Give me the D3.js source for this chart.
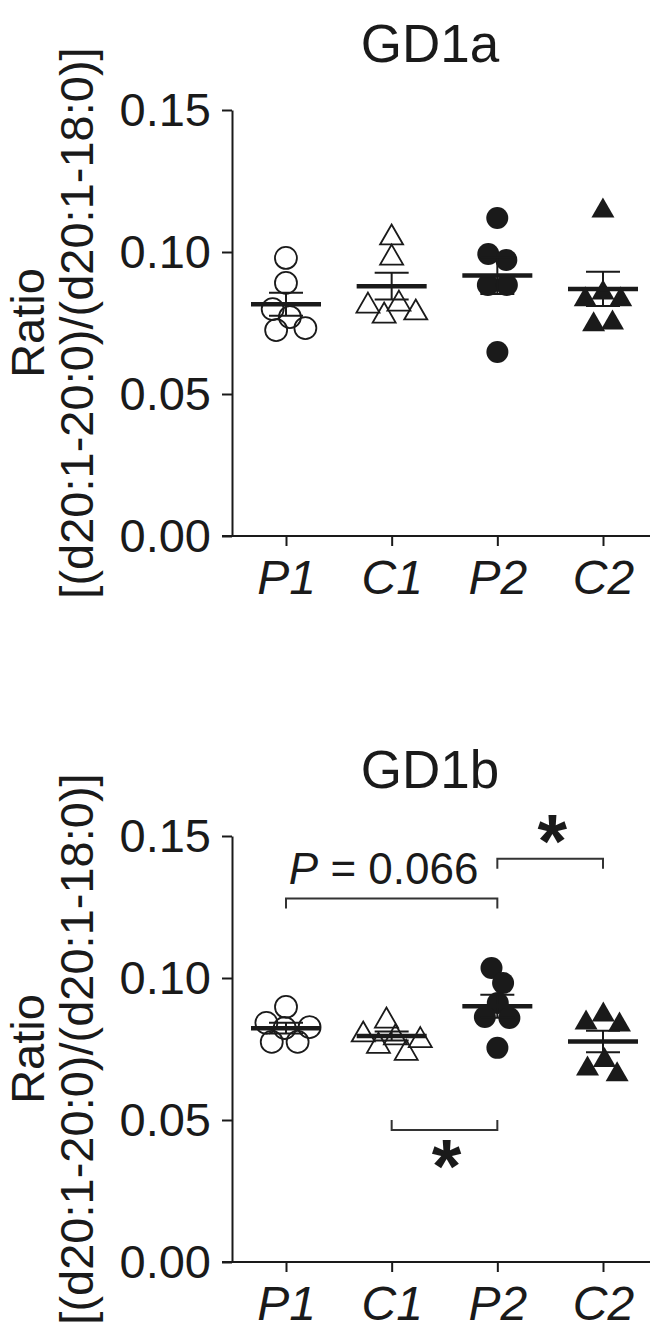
<!DOCTYPE html>
<html lang="en">
<head>
  <meta charset="UTF-8">
  <title>GD1a / GD1b ratio</title>
  <script src="https://cdn.jsdelivr.net/npm/d3@7"></script>
  <style>
    body { margin: 0; background: #fff; }
    svg text { font-family: "Liberation Sans", Arial, sans-serif; fill: #1a1a1a; }
  </style>
</head>
<body>
  <svg id="chart" width="659" height="1332"></svg>
  <script>
    const categories = ["P1", "C1", "P2", "C2"];
    const yTicks = [0, 0.05, 0.10, 0.15];

    // GD1a, six samples per group
    const gd1aP1 = [0.0979, 0.0891, 0.0799, 0.0771, 0.0725, 0.0732];
    const gd1aC1 = [0.1060, 0.0989, 0.0820, 0.0785, 0.0796, 0.0827];
    const gd1aP2 = [0.1120, 0.0993, 0.0972, 0.0884, 0.0884, 0.0648];
    const gd1aC2 = [0.1155, 0.0866, 0.0842, 0.0842, 0.0754, 0.0761];

    // GD1b
    const gd1bP1 = [0.0898, 0.0842, 0.0824, 0.0827, 0.0775, 0.0775];
    const gd1bC1 = [0.0859, 0.0810, 0.0800, 0.0790, 0.0770, 0.0745];
    const gd1bP2 = [0.1035, 0.0982, 0.0912, 0.0863, 0.0859, 0.0754];
    const gd1bC2 = [0.0880, 0.0852, 0.0845, 0.0720, 0.0690, 0.0670];

    // significance brackets for GD1b
    const gd1bBrackets = [
      { from: "P1", to: "P2", y: 0.128, label: "P = 0.066", below: false },
      { from: "P2", to: "C2", y: 0.142, label: "*", below: false },
      { from: "C1", to: "P2", y: 0.0465, label: "*", below: true }
    ];

    const markers = {
      P1: { shape: "circle", filled: false },
      C1: { shape: "triangle", filled: false },
      P2: { shape: "circle", filled: true },
      C2: { shape: "triangle", filled: true }
    };

    const svg = d3.select("#chart");
    const ink = "#1a1a1a";
    const axisX = 232;
    const rightX = 650;

    const x = d3.scalePoint().domain(categories).range([286, 603]);

    function markerPath(shape) {
      if (shape === "circle") return d3.symbol(d3.symbolCircle, Math.PI * 11 * 11)();
      return "M0,-10.5L11.5,9.5L-11.5,9.5Z";
    }

    function drawPanel(top, title, groups, brackets) {
      const g = svg.append("g").attr("transform", `translate(0,${top})`);
      const y = d3.scaleLinear().domain([0, 0.15]).range([536, 110]);

      g.append("text")
        .attr("x", 430).attr("y", 62)
        .attr("text-anchor", "middle")
        .style("font-size", "53px")
        .text(title);

      // y axis
      const ya = g.append("g")
        .attr("transform", `translate(${axisX},0)`)
        .call(d3.axisLeft(y).tickValues(yTicks).tickFormat(d3.format(".2f"))
          .tickSize(10).tickSizeOuter(0).tickPadding(11));
      ya.selectAll("path, line").attr("stroke", ink).attr("stroke-width", 2);
      ya.selectAll("text").style("font-size", "47px").attr("fill", ink);

      // x axis, domain line drawn across the whole plot
      const xa = g.append("g")
        .attr("transform", `translate(0,${y(0)})`)
        .call(d3.axisBottom(x).tickSize(10).tickSizeOuter(0).tickPadding(14));
      xa.select(".domain").remove();
      xa.append("line").attr("x1", axisX - 10).attr("x2", rightX)
        .attr("stroke", ink).attr("stroke-width", 2);
      xa.selectAll("line").attr("stroke", ink).attr("stroke-width", 2);
      xa.selectAll("text").style("font-size", "48px").style("font-style", "italic").attr("fill", ink);

      // y axis title
      const lab = g.append("g").attr("transform", `translate(0,${(y(0) + y(0.15)) / 2}) rotate(-90)`);
      lab.append("text").attr("y", 44).attr("text-anchor", "middle").style("font-size", "47px").text("Ratio");
      lab.append("text").attr("y", 93).attr("text-anchor", "middle").style("font-size", "47px")
        .text("[(d20:1-20:0)/(d20:1-18:0)]");

      categories.forEach((cat, ci) => {
        const vals = groups[ci];
        const cx = x(cat);
        const nodes = vals.map((v, i) => ({ v, x: cx + (i - 2.5) * 2, fy: y(v) }));
        const sim = d3.forceSimulation(nodes)
          .force("x", d3.forceX(cx).strength(0.06))
          .force("collide", d3.forceCollide(9.5).iterations(3))
          .stop();
        for (let k = 0; k < 300; k++) sim.tick();

        const m = markers[cat];
        g.append("g").selectAll("path")
          .data(nodes)
          .join("path")
          .attr("d", markerPath(m.shape))
          .attr("transform", d => `translate(${d.x},${d.fy})`)
          .attr("fill", m.filled ? ink : "none")
          .attr("stroke", ink)
          .attr("stroke-width", m.filled ? 0 : 1.8);

        const mean = d3.mean(vals);
        const sem = d3.deviation(vals) / Math.sqrt(vals.length);
        const eb = g.append("g").attr("stroke", ink);
        eb.append("line").attr("x1", cx).attr("x2", cx)
          .attr("y1", y(mean - sem)).attr("y2", y(mean + sem)).attr("stroke-width", 2);
        [mean - sem, mean + sem].forEach(v => {
          eb.append("line").attr("x1", cx - 17).attr("x2", cx + 17)
            .attr("y1", y(v)).attr("y2", y(v)).attr("stroke-width", 2);
        });
        eb.append("line").attr("x1", cx - 35).attr("x2", cx + 35)
          .attr("y1", y(mean)).attr("y2", y(mean)).attr("stroke-width", 4.5);
      });

      brackets.forEach(b => {
        const x1 = x(b.from), x2 = x(b.to), by = y(b.y);
        const t = b.below ? -10 : 10;
        g.append("path")
          .attr("d", `M${x1},${by + t}V${by}H${x2}V${by + t}`)
          .attr("fill", "none").attr("stroke", "#333").attr("stroke-width", 2);
        const mid = (x1 + x2) / 2;
        if (b.label === "*") {
          g.append("text")
            .attr("x", mid + 2)
            .attr("y", b.below ? by + 62 : by + 8)
            .attr("text-anchor", "middle")
            .style("font-size", "76px").style("font-weight", "bold")
            .text("*");
        } else {
          const parts = b.label.split(" ");
          const tx = g.append("text").attr("x", mid - 8).attr("y", by - 14)
            .attr("text-anchor", "middle").style("font-size", "44px");
          tx.append("tspan").style("font-style", "italic").text(parts[0]);
          tx.append("tspan").text(" " + parts.slice(1).join(" "));
        }
      });
    }

    drawPanel(0, "GD1a", [gd1aP1, gd1aC1, gd1aP2, gd1aC2], []);
    drawPanel(726, "GD1b", [gd1bP1, gd1bC1, gd1bP2, gd1bC2], gd1bBrackets);
  </script>
</body>
</html>
